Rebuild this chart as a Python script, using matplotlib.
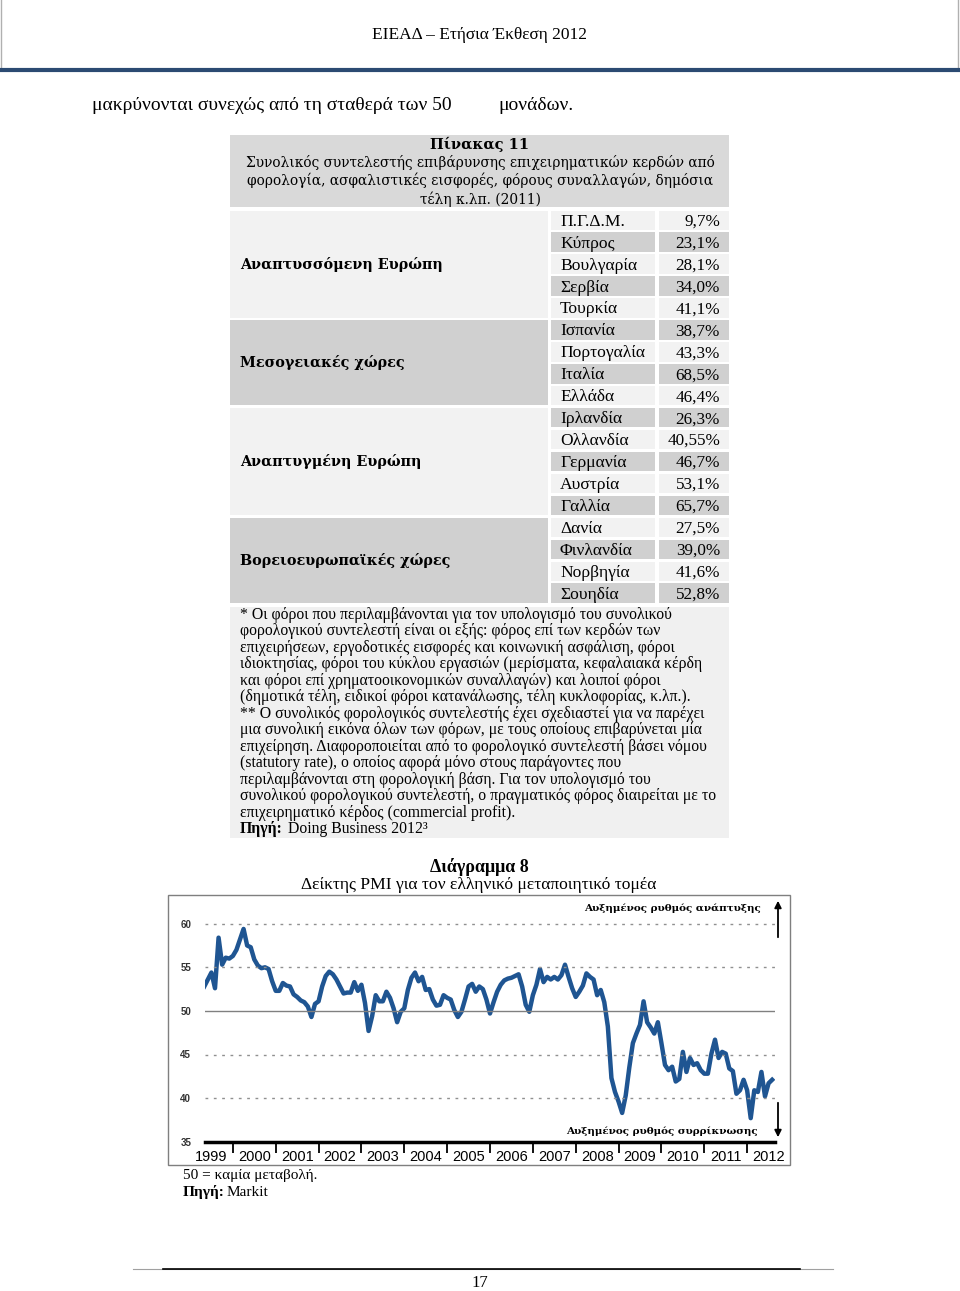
import matplotlib
matplotlib.use("Agg")
import matplotlib.pyplot as plt
import matplotlib.patches as patches
import numpy as np

# ---- table data (Πίνακας 11) ----
groups = ["Αναπτυσσόμενη Ευρώπη", "Μεσογειακές χώρες", "Αναπτυγμένη Ευρώπη", "Βορειοευρωπαϊκές χώρες"]
group_sizes = [5, 4, 5, 4]
countries = ["Π.Γ.Δ.Μ.", "Κύπρος", "Βουλγαρία", "Σερβία", "Τουρκία",
             "Ισπανία", "Πορτογαλία", "Ιταλία", "Ελλάδα",
             "Ιρλανδία", "Ολλανδία", "Γερμανία", "Αυστρία", "Γαλλία",
             "Δανία", "Φινλανδία", "Νορβηγία", "Σουηδία"]
rates = [9.7, 23.1, 28.1, 34.0, 41.1,
         38.7, 43.3, 68.5, 46.4,
         26.3, 40.55, 46.7, 53.1, 65.7,
         27.5, 39.0, 41.6, 52.8]

footnote_lines = [
    "* Οι φόροι που περιλαμβάνονται για τον υπολογισμό του συνολικού",
    "φορολογικού συντελεστή είναι οι εξής: φόρος επί των κερδών των",
    "επιχειρήσεων, εργοδοτικές εισφορές και κοινωνική ασφάλιση, φόροι",
    "ιδιοκτησίας, φόροι του κύκλου εργασιών (μερίσματα, κεφαλαιακά κέρδη",
    "και φόροι επί χρηματοοικονομικών συναλλαγών) και λοιποί φόροι",
    "(δημοτικά τέλη, ειδικοί φόροι κατανάλωσης, τέλη κυκλοφορίας, κ.λπ.).",
    "** Ο συνολικός φορολογικός συντελεστής έχει σχεδιαστεί για να παρέχει",
    "μια συνολική εικόνα όλων των φόρων, με τους οποίους επιβαρύνεται μία",
    "επιχείρηση. Διαφοροποιείται από το φορολογικό συντελεστή βάσει νόμου",
    "(statutory rate), ο οποίος αφορά μόνο στους παράγοντες που",
    "περιλαμβάνονται στη φορολογική βάση. Για τον υπολογισμό του",
    "συνολικού φορολογικού συντελεστή, ο πραγματικός φόρος διαιρείται με το",
    "επιχειρηματικό κέρδος (commercial profit).",
]

# ---- chart data (Διάγραμμα 8): monthly PMI from May 1999 ----
start_year, start_month = 1999, 5
pmi = [52.8, 53.6, 54.4, 52.6, 58.4, 55.3, 56.1, 56.0, 56.3, 57.0,
       58.2, 59.4, 57.5, 57.3, 55.9, 55.2, 54.9, 55.0, 54.8, 53.4,
       52.3, 52.3, 53.2, 52.9, 52.8, 51.9, 51.6, 51.2, 51.0, 50.5,
       49.3, 50.8, 51.1, 52.8, 54.0, 54.5, 54.2, 53.6, 52.8, 52.0,
       52.1, 52.1, 53.3, 52.3, 53.0, 50.9, 47.7, 49.4, 51.8, 51.1,
       51.1, 52.2, 51.5, 50.3, 48.7, 49.9, 50.3, 52.4, 53.8, 54.4,
       53.4, 53.9, 52.4, 52.5, 51.3, 50.6, 50.7, 51.8, 51.5, 51.3,
       50.1, 49.3, 49.9, 51.3, 52.8, 53.1, 52.2, 52.8, 52.5, 51.3,
       49.7, 51.0, 52.2, 53.0, 53.5, 53.7, 53.8, 54.0, 54.2, 52.8,
       50.7, 49.9, 51.8, 53.0, 54.8, 53.3, 53.9, 53.6, 53.9, 53.6,
       54.1, 55.3, 53.9, 52.6, 51.6, 52.2, 52.9, 54.3, 53.9, 53.6,
       51.8, 52.4, 51.0, 48.2, 42.3, 40.7, 39.6, 38.3, 40.3, 43.5,
       46.3, 47.4, 48.4, 51.1, 48.7, 48.1, 47.4, 48.7, 46.3, 43.8,
       43.2, 43.6, 41.9, 42.2, 45.3, 43.0, 44.6, 43.8, 44.0, 43.2,
       42.8, 42.8, 45.1, 46.7, 44.6, 45.3, 45.1, 43.4, 43.1, 40.5,
       40.9, 42.1, 40.9, 37.7, 40.9, 40.7, 43.0, 40.2, 41.7, 42.1]
years = list(range(1999, 2013))
y_ticks = [35, 40, 45, 50, 55, 60]

serif = ["Liberation Serif", "DejaVu Serif"]
wide_serif = ["DejaVu Serif"]
sans = ["Liberation Sans", "DejaVu Sans"]

fig = plt.figure(figsize=(9.6, 12.91), dpi=100)
page = fig.add_axes([0, 0, 1, 1])
page.set_xlim(0, 960)
page.set_ylim(1291, 0)
page.axis("off")

# header
page.plot([1, 1], [0, 68], color="#b0b0b0", lw=1)
page.plot([958, 958], [0, 68], color="#b0b0b0", lw=1)
page.plot([0, 960], [69.5, 69.5], color="#2b4a72", lw=3)
page.text(480, 35, "ΕΙΕΑΔ – Ετήσια Έκθεση 2012", family=serif, fontsize=12.5,
          ha="center", va="center")
page.text(92, 105, "μακρύνονται συνεχώς από τη σταθερά των 50", family=serif,
          fontsize=14, ha="left", va="center")
page.text(498, 105, "μονάδων.", family=serif, fontsize=14, ha="left", va="center")

# table title
page.add_patch(patches.Rectangle((230, 135), 499, 72, color="#d9d9d9", lw=0))
page.text(480, 144, "Πίνακας 11", family=wide_serif, fontsize=10.5,
          weight="bold", ha="center", va="center")
title_lines = ["Συνολικός συντελεστής επιβάρυνσης επιχειρηματικών κερδών από",
               "φορολογία, ασφαλιστικές εισφορές, φόρους συναλλαγών, δημόσια",
               "τέλη κ.λπ. (2011)"]
for k, line in enumerate(title_lines):
    page.text(480, 162 + k * 18.5, line, family=wide_serif, fontsize=9.9,
              ha="center", va="center")

# table rows
row_h = 21.94
top0 = 210.5
light, dark = "#f2f2f2", "#d0d0d0"
for r, (name, v) in enumerate(zip(countries, rates)):
    top = top0 + r * row_h
    col = light if r % 2 == 0 else dark
    page.add_patch(patches.Rectangle((551, top), 104, row_h - 2.5, color=col, lw=0))
    page.add_patch(patches.Rectangle((659, top), 70, row_h - 2.5, color=col, lw=0))
    yc = top + (row_h - 2.5) / 2 + 1.5
    page.text(560, yc, name, family=serif, fontsize=12.6, ha="left", va="center")
    s = f"{v:.1f}" if round(v, 1) == v else f"{v:.2f}"
    page.text(720, yc, s.replace(".", ",") + "%", family=serif, fontsize=12.3,
              ha="right", va="center")

r0 = 0
for g, (gname, n) in enumerate(zip(groups, group_sizes)):
    top = top0 + r0 * row_h
    h = n * row_h - 2.5
    col = light if g % 2 == 0 else dark
    page.add_patch(patches.Rectangle((230, top), 318, h, color=col, lw=0))
    page.text(240, top + h / 2, gname, family=wide_serif, fontsize=10.4,
              weight="bold", ha="left", va="center")
    r0 += n

# footnotes
page.add_patch(patches.Rectangle((230, 607), 499, 231, color="#f0f0f0", lw=0))
for k, line in enumerate(footnote_lines):
    page.text(240, 615 + k * 16.46, line, family=serif, fontsize=11.3,
              ha="left", va="center")
page.text(240, 829, "Πηγή:", family=serif, fontsize=11.3, weight="bold",
          ha="left", va="center")
page.text(288, 829, "Doing Business 2012³", family=serif, fontsize=11.3,
          ha="left", va="center")

# chart titles and box
page.text(479, 867, "Διάγραμμα 8", family=serif, fontsize=13, weight="bold",
          ha="center", va="center")
page.text(479, 885, "Δείκτης PMI για τον ελληνικό μεταποιητικό τομέα",
          family=serif, fontsize=12.6, ha="center", va="center")
page.add_patch(patches.Rectangle((168, 895), 622, 270, fill=False,
                                 edgecolor="#7f7f7f", lw=1))

page.text(183, 1175, "50 = καμία μεταβολή.", family=serif, fontsize=11,
          ha="left", va="center")
page.text(183, 1192, "Πηγή:", family=serif, fontsize=11, weight="bold",
          ha="left", va="center")
page.text(227, 1192, "Markit", family=serif, fontsize=11, ha="left", va="center")

# footer
page.plot([133, 833], [1269, 1269], color="#a0a0a0", lw=0.8)
page.plot([163, 800], [1269, 1269], color="black", lw=1.2)
page.text(480, 1283, "17", family=serif, fontsize=12, ha="center", va="center")

# ---- PMI chart ----
ax = fig.add_axes([205 / 960, (1291 - 1141.7) / 1291, 570 / 960, (1141.7 - 904.5) / 1291])
months = np.arange(len(pmi))
xs = start_year + (start_month - 1 + months) / 12
ax.plot(xs, pmi, color="#1f5592", lw=3.2, solid_joinstyle="round")
ax.set_xlim(1999.35, 2012.65)
ax.set_ylim(35, 35 + (1141.7 - 904.5) / 8.72)
for yv in y_ticks[1:]:
    if yv == 50:
        ax.axhline(yv, color="#808080", lw=1.0)
    else:
        ax.axhline(yv, color="#909090", lw=1.0, ls=(0, (2, 4)))
for s in ["top", "right", "left"]:
    ax.spines[s].set_visible(False)
ax.spines["bottom"].set_linewidth(2.5)
ax.set_facecolor("none")
ax.set_yticks(y_ticks)
ax.set_yticklabels([str(t) for t in y_ticks], family=sans, fontsize=7, weight="bold",
                   color="#333333")
ax.tick_params(axis="y", length=0, pad=10)
ax.set_xticks(years[1:])
ax.set_xticklabels([])
ax.tick_params(axis="x", which="major", length=8, width=1.3, direction="out")
ax.set_xticks([y + 0.5 for y in years], minor=True)
ax.set_xticklabels([str(y) for y in years], minor=True, family=sans, fontsize=10.5)
ax.tick_params(axis="x", which="minor", length=0, pad=6)

ax.text(0.975, 0.985, "Αυξημένος ρυθμός ανάπτυξης", transform=ax.transAxes,
        family=wide_serif, fontsize=7.5, weight="bold", ha="right", va="center")
ax.text(0.970, 0.045, "Αυξημένος ρυθμός συρρίκνωσης", transform=ax.transAxes,
        family=wide_serif, fontsize=7.5, weight="bold", ha="right", va="center")
page.annotate("", xy=(778, 898), xytext=(778, 940),
              arrowprops=dict(arrowstyle="-|>", color="black", lw=1.3, mutation_scale=10))
page.annotate("", xy=(778, 1140), xytext=(778, 1100),
              arrowprops=dict(arrowstyle="-|>", color="black", lw=1.3, mutation_scale=10))

fig.savefig("out.png", dpi=100)
